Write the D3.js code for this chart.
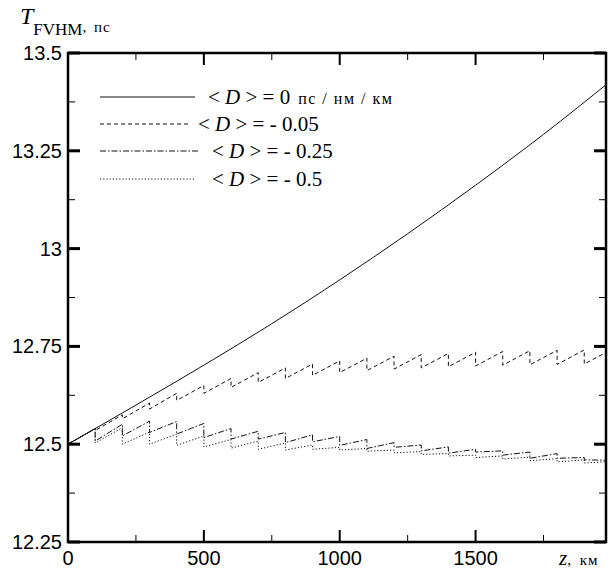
<!DOCTYPE html>
<html>
<head>
<meta charset="utf-8">
<script src="https://cdn.jsdelivr.net/npm/d3@7/dist/d3.min.js"></script>
<style>
body{margin:0;background:#fff}
svg{display:block}
.num{font-family:"Liberation Sans",Arial,sans-serif;font-size:20px;fill:#000}
.serif{font-family:"Liberation Serif","Times New Roman",serif;fill:#000}
</style>
</head>
<body>
<svg></svg>
<script>
// solid line, <D> = 0
var solidZ = [0, 250, 500, 750, 1000, 1250, 1500, 1750, 2000];
var solidT = [12.5, 12.60, 12.702, 12.808, 12.92, 13.038, 13.162, 13.292, 13.43];

// amplifier spans every 100 km, each series rises inside a span then drops
var spanZ = [0,100,200,300,400,500,600,700,800,900,1000,1100,1200,1300,1400,1500,1600,1700,1800,1900];

var d005Start = [12.500,12.535,12.565,12.590,12.612,12.630,12.645,12.658,12.668,12.676,12.683,12.688,12.692,12.695,12.698,12.700,12.702,12.703,12.704,12.705];
var d005End   = [12.540,12.575,12.605,12.630,12.650,12.668,12.683,12.695,12.705,12.713,12.720,12.725,12.729,12.732,12.735,12.737,12.739,12.740,12.741,12.742];

var d025Start = [12.500,12.508,12.521,12.530,12.526,12.517,12.513,12.513,12.504,12.506,12.497,12.489,12.492,12.483,12.477,12.480,12.472,12.464,12.464,12.460];
var d025End   = [12.540,12.551,12.559,12.558,12.553,12.540,12.533,12.530,12.524,12.520,12.512,12.504,12.498,12.493,12.487,12.483,12.480,12.476,12.466,12.459];

var d05Start = [12.500,12.503,12.500,12.500,12.497,12.493,12.490,12.487,12.485,12.487,12.485,12.482,12.478,12.474,12.470,12.466,12.462,12.458,12.455,12.452];
var d05End   = [12.540,12.542,12.531,12.526,12.521,12.512,12.508,12.503,12.498,12.492,12.489,12.485,12.481,12.476,12.472,12.470,12.467,12.463,12.460,12.456];

var xMajor = [0, 500, 1000, 1500];
var xMinor = [250, 750, 1250, 1750];
var yMajor = [12.25, 12.5, 12.75, 13, 13.25, 13.5];
var yMinor = [12.375, 12.625, 12.875, 13.125, 13.375];

var legendLabels = ["0", "- 0.05", "- 0.25", "- 0.5"];

var width = 610, height = 568;
var plotL = 68, plotR = 606, plotT = 53, plotB = 542;

var svg = d3.select("svg").attr("width", width).attr("height", height);

var x = d3.scaleLinear().domain([0, 1980]).range([plotL, plotR]);
var y = d3.scaleLinear().domain([12.25, 13.5]).range([plotB, plotT]);

svg.append("defs").append("clipPath").attr("id", "clip")
  .append("rect").attr("x", plotL).attr("y", plotT)
  .attr("width", plotR - plotL).attr("height", plotB - plotT);

function sawPoints(starts, ends) {
  var pts = [];
  for (var i = 0; i < spanZ.length; i++) {
    pts.push([spanZ[i], starts[i]]);
    pts.push([spanZ[i] + 100, ends[i]]);
  }
  return pts;
}

var line = d3.line().x(function(d){ return x(d[0]); }).y(function(d){ return y(d[1]); });
var smooth = d3.line().curve(d3.curveMonotoneX).x(function(d){ return x(d[0]); }).y(function(d){ return y(d[1]); });

var series = [
  { pts: solidZ.map(function(z, i){ return [z, solidT[i]]; }), dash: null, gen: smooth },
  { pts: sawPoints(d005Start, d005End), dash: "4,3", gen: line },
  { pts: sawPoints(d025Start, d025End), dash: "6,2,1.5,2", gen: line },
  { pts: sawPoints(d05Start, d05End), dash: "1.2,2", gen: line }
];

var g = svg.append("g").attr("clip-path", "url(#clip)");
series.forEach(function(s) {
  g.append("path").datum(s.pts)
    .attr("d", s.gen)
    .attr("fill", "none")
    .attr("stroke", "#111")
    .attr("stroke-width", 1)
    .attr("stroke-dasharray", s.dash);
});

// frame
svg.append("rect").attr("x", plotL).attr("y", plotT)
  .attr("width", plotR - plotL).attr("height", plotB - plotT)
  .attr("fill", "none").attr("stroke", "#000").attr("stroke-width", 2.5);

// ticks, all pointing inward on every side
xMajor.forEach(function(v) {
  svg.append("line").attr("x1", x(v)).attr("x2", x(v)).attr("y1", plotB).attr("y2", plotB - 12).attr("stroke", "#000").attr("stroke-width", 2);
  svg.append("line").attr("x1", x(v)).attr("x2", x(v)).attr("y1", plotT).attr("y2", plotT + 12).attr("stroke", "#000").attr("stroke-width", 2);
  svg.append("text").attr("class", "num").attr("x", x(v)).attr("y", 565)
    .attr("text-anchor", "middle").text(v);
});
xMinor.forEach(function(v) {
  svg.append("line").attr("x1", x(v)).attr("x2", x(v)).attr("y1", plotB).attr("y2", plotB - 7).attr("stroke", "#000").attr("stroke-width", 1);
  svg.append("line").attr("x1", x(v)).attr("x2", x(v)).attr("y1", plotT).attr("y2", plotT + 7).attr("stroke", "#000").attr("stroke-width", 1);
});
yMajor.forEach(function(v) {
  svg.append("line").attr("x1", plotL).attr("x2", plotL + 12).attr("y1", y(v)).attr("y2", y(v)).attr("stroke", "#000").attr("stroke-width", 3);
  svg.append("line").attr("x1", plotR).attr("x2", plotR - 12).attr("y1", y(v)).attr("y2", y(v)).attr("stroke", "#000").attr("stroke-width", 3);
  svg.append("text").attr("class", "num").attr("x", 62).attr("y", y(v) + 7)
    .attr("text-anchor", "end").text(v);
});
yMinor.forEach(function(v) {
  svg.append("line").attr("x1", plotL).attr("x2", plotL + 7).attr("y1", y(v)).attr("y2", y(v)).attr("stroke", "#000").attr("stroke-width", 1);
  svg.append("line").attr("x1", plotR).attr("x2", plotR - 7).attr("y1", y(v)).attr("y2", y(v)).attr("stroke", "#000").attr("stroke-width", 1);
});

// axis titles
var yt = svg.append("text").attr("class", "serif").attr("x", 20).attr("y", 24);
yt.append("tspan").attr("font-size", 24).attr("font-style", "italic").text("T");
yt.append("tspan").attr("font-size", 17).attr("dy", 11).text("FVHM");
yt.append("tspan").attr("font-size", 15).attr("dy", -3).text(", ");
yt.append("tspan").attr("font-size", 15).attr("dx", 4).attr("letter-spacing", 1).text("пс");

var xt = svg.append("text").attr("class", "serif").attr("x", 559).attr("y", 565);
xt.append("tspan").attr("font-size", 21).attr("font-style", "italic").text("z");
xt.append("tspan").attr("font-size", 15).text(", ");
xt.append("tspan").attr("font-size", 15).attr("dx", 5).attr("letter-spacing", 1).text("км");

// legend
var legY = [97, 124, 151, 179];
var legX1 = [100, 100, 100, 100];
var legX2 = [195, 190, 198, 195];
var legTx = [208, 198, 212, 212];
series.forEach(function(s, i) {
  svg.append("line").attr("x1", legX1[i]).attr("x2", legX2[i])
    .attr("y1", legY[i]).attr("y2", legY[i])
    .attr("stroke", "#111").attr("stroke-width", 1)
    .attr("stroke-dasharray", s.dash);
  var t = svg.append("text").attr("class", "serif").attr("x", legTx[i]).attr("y", legY[i] + 7).attr("font-size", 21);
  t.append("tspan").text("< ");
  t.append("tspan").attr("font-style", "italic").text("D");
  t.append("tspan").text(" > = " + legendLabels[i]);
  if (i === 0) {
    t.append("tspan").attr("font-size", 16).attr("dx", 8).attr("letter-spacing", 1.5).text("пс / нм / км");
  }
});
</script>
</body>
</html>
